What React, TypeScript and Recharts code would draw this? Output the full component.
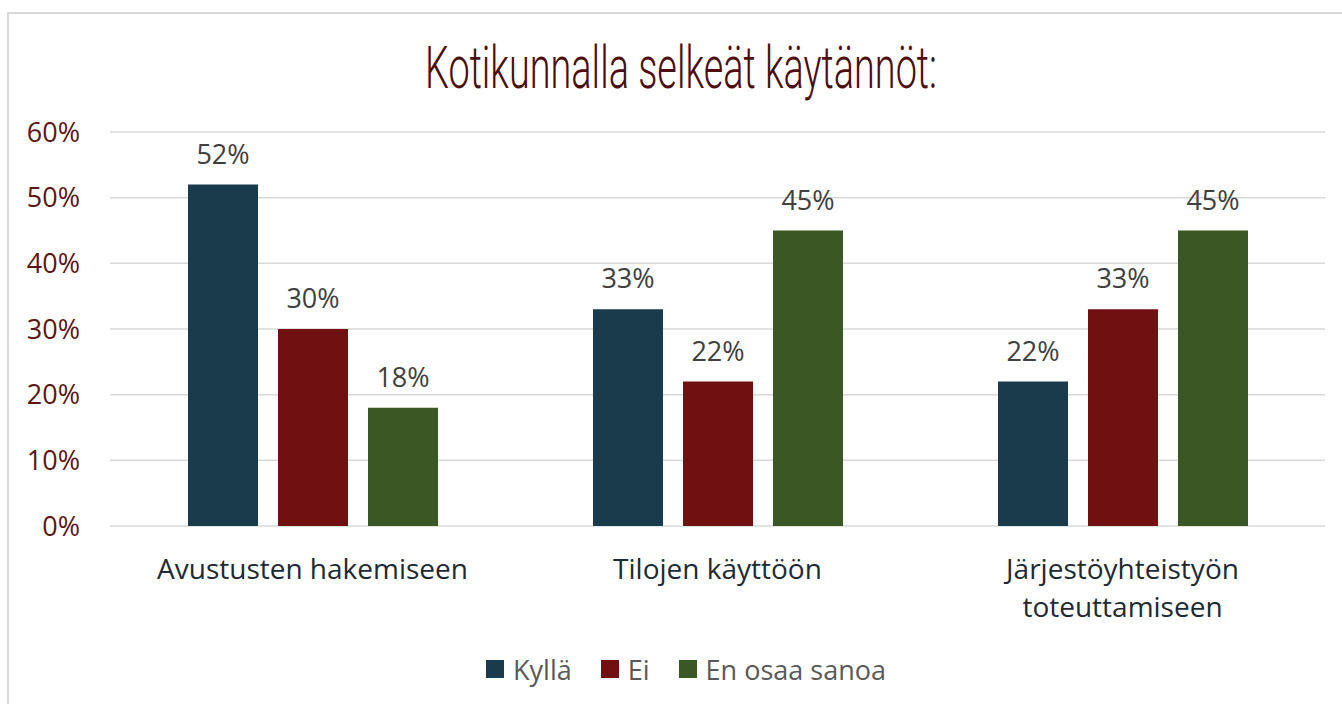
import React from "react";
import { BarChart, Bar, XAxis, YAxis, CartesianGrid, Legend, LabelList } from "recharts";

const categories = ["Avustusten hakemiseen", "Tilojen käyttöön", "Järjestöyhteistyön toteuttamiseen"];
const kylla = [52, 33, 22];
const ei = [30, 22, 33];
const enOsaa = [18, 45, 45];
const yTicks = [0, 10, 20, 30, 40, 50, 60];
const seriesNames = ["Kyllä", "Ei", "En osaa sanoa"];
const seriesColors = ["#1a3b4b", "#701010", "#3a5724"];
const title = "Kotikunnalla selkeät käytännöt:";

const data = categories.map((c, i) => ({ name: c, kylla: kylla[i], ei: ei[i], eos: enOsaa[i] }));

const FONT = "'Open Sans', 'Noto Sans', sans-serif";

function wrapWords(text: string, maxChars: number): string[] {
  const words = text.split(" ");
  const lines: string[] = [];
  let cur = "";
  for (const w of words) {
    const next = cur ? cur + " " + w : w;
    if (next.length > maxChars && cur) {
      lines.push(cur);
      cur = w;
    } else {
      cur = next;
    }
  }
  if (cur) lines.push(cur);
  return lines;
}

const CategoryTick = (props: any) => {
  const { x, y, payload } = props;
  const lines = wrapWords(String(payload.value), 24);
  return (
    <text x={x} y={y} textAnchor="middle" fill="#1e2a33" fontSize={28} fontFamily={FONT}>
      {lines.map((l, i) => (
        <tspan key={i} x={x} dy={i === 0 ? 53 : 38}>
          {l}
        </tspan>
      ))}
    </text>
  );
};

const LegendContent = (props: any) => {
  const payload = [...(props.payload || [])].sort(
    (a: any, b: any) => seriesNames.indexOf(a.value) - seriesNames.indexOf(b.value)
  );
  return (
    <div
      style={{
        height: 60,
        boxSizing: "border-box",
        paddingBottom: 10,
        paddingLeft: 30,
        display: "flex",
        justifyContent: "center",
        alignItems: "center",
        fontFamily: FONT,
        fontSize: 27,
        color: "#595959",
      }}
    >
      {payload.map((p: any, i: number) => (
        <div key={i} style={{ display: "flex", alignItems: "center", marginRight: i < payload.length - 1 ? 29 : 0 }}>
          <div style={{ width: 18, height: 18, background: p.color, marginRight: 9 }} />
          <span>{p.value}</span>
        </div>
      ))}
    </div>
  );
};

export default function App() {
  return (
    <div style={{ position: "fixed", left: 0, top: 0, width: 1342, height: 704, overflow: "hidden", background: "#fff" }}>
      <div
        style={{
          position: "absolute",
          left: 7,
          top: 12,
          width: 1400,
          height: 800,
          borderLeft: "2px solid #d9d9d9",
          borderTop: "2px solid #d9d9d9",
        }}
      />
      <svg style={{ position: "absolute", left: 0, top: 0 }} width={1342} height={120}>
        <text
          x={681}
          y={88}
          textAnchor="middle"
          fill="#4b0d0d"
          fontSize={60}
          fontWeight={300}
          fontFamily="Roboto, 'DejaVu Sans', sans-serif"
          textLength={512}
          lengthAdjust="spacingAndGlyphs"
        >
          {title}
        </text>
      </svg>
      <div style={{ position: "absolute", left: 0, top: 0 }}>
        <BarChart
          width={1342}
          height={704}
          data={data}
          margin={{ top: 132, right: 17, left: 0, bottom: 0 }}
          barSize={70}
          barGap={20}
        >
          <CartesianGrid vertical={false} stroke="#d9d9d9" strokeWidth={1.5} />
          <XAxis
            dataKey="name"
            axisLine={false}
            tickLine={false}
            tickSize={0}
            tickMargin={0}
            height={118}
            interval={0}
            tick={<CategoryTick />}
          />
          <YAxis
            width={110}
            domain={[0, 60]}
            ticks={yTicks}
            axisLine={false}
            tickLine={false}
            tickSize={0}
            tickMargin={30}
            tickFormatter={(v: number) => `${v}%`}
            tick={{ fill: "#5a1616", fontSize: 27, fontFamily: FONT }}
          />
          <Legend verticalAlign="bottom" content={<LegendContent />} wrapperStyle={{ left: 0, width: 1342 }} />
          <Bar dataKey="kylla" name={seriesNames[0]} fill={seriesColors[0]} isAnimationActive={false}>
            <LabelList dataKey="kylla" position="top" offset={21} formatter={(v: any) => `${v}%`} fill="#404040" fontSize={27} fontFamily={FONT} />
          </Bar>
          <Bar dataKey="ei" name={seriesNames[1]} fill={seriesColors[1]} isAnimationActive={false}>
            <LabelList dataKey="ei" position="top" offset={21} formatter={(v: any) => `${v}%`} fill="#404040" fontSize={27} fontFamily={FONT} />
          </Bar>
          <Bar dataKey="eos" name={seriesNames[2]} fill={seriesColors[2]} isAnimationActive={false}>
            <LabelList dataKey="eos" position="top" offset={21} formatter={(v: any) => `${v}%`} fill="#404040" fontSize={27} fontFamily={FONT} />
          </Bar>
        </BarChart>
      </div>
    </div>
  );
}
